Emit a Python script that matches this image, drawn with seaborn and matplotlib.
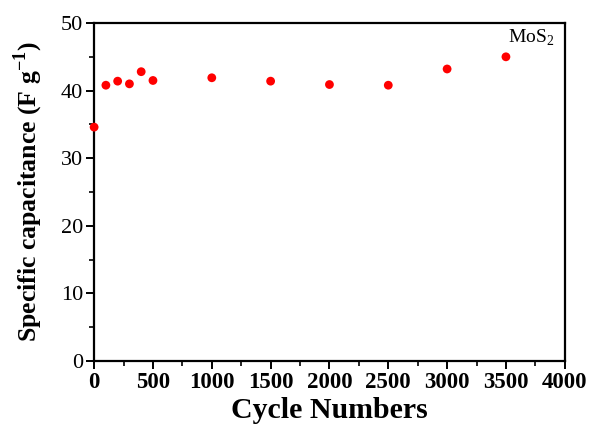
import matplotlib
matplotlib.use("Agg")
import matplotlib.pyplot as plt
from matplotlib.ticker import MultipleLocator
import seaborn as sns
import pandas as pd

cycles = [0, 100, 200, 300, 400, 500, 1000, 1500, 2000, 2500, 3000, 3500]
capacitance = [34.6, 40.8, 41.4, 41.0, 42.8, 41.5, 41.9, 41.4, 40.9, 40.8, 43.2, 45.0]
x_ticks = [0, 500, 1000, 1500, 2000, 2500, 3000, 3500, 4000]
y_ticks = [0, 10, 20, 30, 40, 50]

df = pd.DataFrame({"cycle": cycles, "cap": capacitance})

sns.set_theme(style="ticks")
plt.rcParams["font.family"] = ["Liberation Serif", "DejaVu Serif"]
plt.rcParams["mathtext.fontset"] = "custom"
plt.rcParams["mathtext.rm"] = "Liberation Serif"
plt.rcParams["mathtext.bf"] = "Liberation Serif:bold"
plt.rcParams["text.color"] = "black"
plt.rcParams["axes.labelcolor"] = "black"
plt.rcParams["xtick.color"] = "black"
plt.rcParams["ytick.color"] = "black"

fig = plt.figure(figsize=(5.92, 4.34), dpi=100)
ax = fig.add_axes([0.159, 0.168, 0.795, 0.779])

sns.scatterplot(data=df, x="cycle", y="cap", ax=ax, color="#ff0000",
                s=40, edgecolor="none", clip_on=False, zorder=3)

ax.set_xlim(0, 4000)
ax.set_ylim(0, 50)
ax.set_xticks(x_ticks)
ax.set_yticks(y_ticks)
ax.xaxis.set_minor_locator(MultipleLocator(250))
ax.yaxis.set_minor_locator(MultipleLocator(5))

for s in ax.spines.values():
    s.set_visible(True)
    s.set_linewidth(1.6)
    s.set_color("black")

ax.tick_params(axis="both", which="major", direction="out", length=6, width=1.4,
               top=False, right=False)
ax.tick_params(axis="both", which="minor", direction="out", length=3.5, width=1.2,
               top=False, right=False)
ax.tick_params(axis="x", labelsize=16.5, pad=2)
ax.tick_params(axis="y", labelsize=16, pad=2)
for lbl in ax.get_xticklabels():
    lbl.set_fontweight("bold")

ax.set_xlabel("Cycle Numbers", fontsize=21.5, fontweight="bold", labelpad=3)
ax.set_ylabel(r"Specific capacitance (F g$^{\mathbf{-1}}$)", fontsize=18.5,
              fontweight="bold", labelpad=11)

ax.text(0.978, 0.985, r"MoS$_2$", transform=ax.transAxes, ha="right", va="top",
        fontsize=14)

fig.savefig("out.png", dpi=100)
